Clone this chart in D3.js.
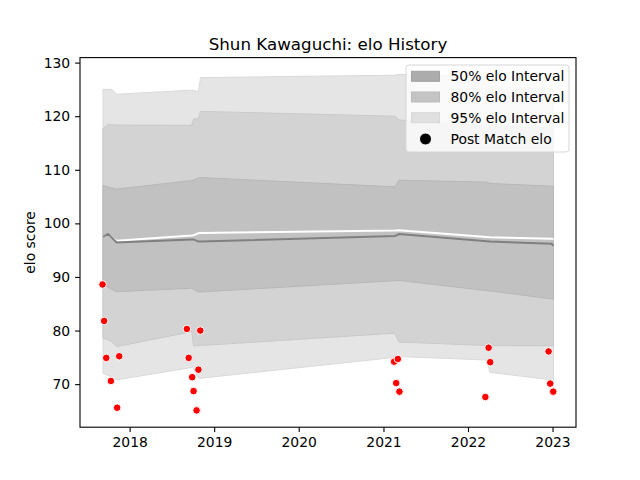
<!DOCTYPE html>
<html>
<head>
<meta charset="utf-8">
<script src="https://cdn.jsdelivr.net/npm/d3@7"></script>
<style>
  html, body { margin: 0; padding: 0; background: #fff; }
  svg { display: block; font-family: "DejaVu Sans", sans-serif; }
</style>
</head>
<body>
<svg id="chart" width="640" height="480"></svg>
<script>
// ---------- data ----------
const titleText = "Shun Kawaguchi: elo History";
const yLabelText = "elo score";

const bandDates = [
  "2017-09-08", "2017-09-30", "2017-10-16", "2017-11-06",
  "2018-09-26", "2018-10-04", "2018-10-25", "2018-11-03",
  "2021-02-20", "2021-03-09", "2022-03-23", "2022-04-06",
  "2022-12-28", "2023-01-05"
];
const upper95 = [125.0, 125.0, 125.0, 124.1, 124.85, 124.8, 124.6, 127.2, 127.65, 127.8, 127.4, 125.5, 125.2, 125.2];
const upper80 = [117.66, 118.45, 118.4, 118.35, 118.3, 119.5, 119.5, 120.9, 120.0, 119.3, 118.2, 118.1, 117.9, 117.85];
const upper50 = [107.07, 106.8, 106.64, 106.4, 108.0, 108.1, 108.45, 108.55, 106.82, 108.05, 107.7, 107.45, 106.95, 106.93];
const lower50 = [88.5, 88.1, 87.7, 87.25, 87.9, 87.6, 87.2, 87.2, 89.3, 89.35, 87.45, 87.4, 85.9, 85.85];
const lower80 = [78.55, 78.3, 77.9, 77.0, 79.8, 77.1, 77.2, 77.2, 79.5, 77.85, 77.2, 77.2, 77.15, 77.1];
const lower95 = [72.0, 71.6, 71.3, 70.8, 73.1, 73.0, 71.1, 71.1, 75.0, 75.15, 74.5, 72.2, 70.8, 70.75];
const meanElo   = [97.5, 98.05, 97.3, 96.75, 97.75, 97.8, 98.15, 98.2, 98.65, 98.7, 97.45, 97.4, 97.15, 97.1];
const medianElo = [97.5, 98.05, 97.3, 96.45, 97.0, 97.0, 96.6, 96.6, 97.66, 98.0, 96.65, 96.6, 96.2, 95.8];

const matchDates = [
  "2017-09-06", "2017-09-13", "2017-09-22", "2017-10-12", "2017-11-08", "2017-11-17",
  "2018-09-05", "2018-09-13", "2018-09-28", "2018-10-04", "2018-10-17", "2018-10-25", "2018-11-02",
  "2021-02-16", "2021-02-25", "2021-03-04", "2021-03-11",
  "2022-03-17", "2022-03-31", "2022-04-07",
  "2022-12-15", "2022-12-22", "2023-01-04"
];
const matchElo = [
  88.6, 81.8, 74.9, 70.6, 65.6, 75.2,
  80.3, 74.9, 71.3, 68.7, 65.1, 72.7, 80.0,
  74.2, 70.2, 74.7, 68.6,
  67.6, 76.8, 74.1,
  76.1, 70.1, 68.6
];

const xTickYears = [2018, 2019, 2020, 2021, 2022, 2023];
const yTicks = [70, 80, 90, 100, 110, 120, 130];
const legendLabels = ["50% elo Interval", "80% elo Interval", "95% elo Interval", "Post Match elo"];

// ---------- layout ----------
const svg = d3.select("#chart");
const L = 80, R = 576, T = 57.6, B = 427.2;
const parse = d3.timeParse("%Y-%m-%d");

const bDates = bandDates.map(parse);
const mDates = matchDates.map(parse);
const allDates = bDates.concat(mDates);
const tMin = d3.min(allDates), tMax = d3.max(allDates);
const tSpan = tMax - tMin;
const x = d3.scaleTime()
  .domain([new Date(+tMin - 0.05 * tSpan), new Date(+tMax + 0.05 * tSpan)])
  .range([L, R]);

const allVals = matchElo.concat(upper95, lower95);
const vMin = d3.min(allVals), vMax = d3.max(allVals);
const vSpan = vMax - vMin;
const y = d3.scaleLinear()
  .domain([vMin - 0.05 * vSpan, vMax + 0.05 * vSpan])
  .range([B, T]);

const bandRows = bDates.map((d, i) => ({
  d, u95: upper95[i], u80: upper80[i], u50: upper50[i],
  l50: lower50[i], l80: lower80[i], l95: lower95[i],
  mean: meanElo[i], med: medianElo[i]
}));

const clip = svg.append("defs").append("clipPath").attr("id", "plotclip")
  .append("rect").attr("x", L).attr("y", T).attr("width", R - L).attr("height", B - T);

const plot = svg.append("g").attr("clip-path", "url(#plotclip)");

function band(lo, hi, fill, stroke) {
  const area = d3.area().x(r => x(r.d)).y0(r => y(r[lo])).y1(r => y(r[hi]));
  plot.append("path").datum(bandRows).attr("d", area)
    .attr("fill", fill).attr("stroke", stroke).attr("stroke-width", 1);
}
band("l95", "u95", "#e5e5e5", "#d9d9d9");
band("l80", "u80", "#d3d3d3", "#c9c9c9");
band("l50", "u50", "#c1c1c1", "#b7b7b7");

const lineMean = d3.line().x(r => x(r.d)).y(r => y(r.mean));
const lineMed = d3.line().x(r => x(r.d)).y(r => y(r.med));
plot.append("path").datum(bandRows).attr("d", lineMean)
  .attr("fill", "none").attr("stroke", "#ffffff").attr("stroke-width", 2);
plot.append("path").datum(bandRows).attr("d", lineMed)
  .attr("fill", "none").attr("stroke", "#808080").attr("stroke-width", 2);

plot.selectAll("circle.pt").data(mDates.map((d, i) => ({ d, v: matchElo[i] })))
  .enter().append("circle").attr("class", "pt")
  .attr("cx", p => x(p.d)).attr("cy", p => y(p.v)).attr("r", 3.8)
  .attr("fill", "#ff0000").attr("stroke", "#ffffff").attr("stroke-width", 1);

// ---------- axes ----------
const xAxis = d3.axisBottom(x)
  .tickValues(xTickYears.map(yr => new Date(yr, 0, 1)))
  .tickFormat(d3.timeFormat("%Y"))
  .tickSizeOuter(0).tickSize(4.9).tickPadding(4.9);
const gx = svg.append("g").attr("transform", `translate(0,${B})`).call(xAxis);
gx.select(".domain").remove();
gx.selectAll("text").attr("font-size", "13.9px").attr("fill", "#000").attr("font-family", "DejaVu Sans");
gx.selectAll("line").attr("stroke", "#000").attr("stroke-width", 1.1);

const yAxis = d3.axisLeft(y).tickValues(yTicks).tickFormat(d3.format("d"))
  .tickSizeOuter(0).tickSize(4.9).tickPadding(4.9);
const gy = svg.append("g").attr("transform", `translate(${L},0)`).call(yAxis);
gy.select(".domain").remove();
gy.selectAll("text").attr("font-size", "13.9px").attr("fill", "#000").attr("font-family", "DejaVu Sans");
gy.selectAll("line").attr("stroke", "#000").attr("stroke-width", 1.1);

svg.append("rect").attr("x", L).attr("y", T).attr("width", R - L).attr("height", B - T)
  .attr("fill", "none").attr("stroke", "#000").attr("stroke-width", 1.1);

// ---------- labels ----------
svg.append("text").attr("x", (L + R) / 2).attr("y", 49.5).attr("text-anchor", "middle")
  .attr("font-size", "16.7px").attr("fill", "#000").text(titleText);

svg.append("text").attr("transform", `translate(35,${(T + B) / 2}) rotate(-90)`)
  .attr("text-anchor", "middle").attr("font-size", "13.9px").attr("fill", "#000").text(yLabelText);

// ---------- legend ----------
const lg = svg.append("g");
lg.append("rect").attr("x", 406).attr("y", 65).attr("width", 163).attr("height", 87)
  .attr("rx", 3).attr("fill", "#ffffff").attr("fill-opacity", 0.8)
  .attr("stroke", "#d6d6d6").attr("stroke-width", 1);
const patchFill = ["#acacac", "#c4c4c4", "#e0e0e0"];
const patchStroke = ["#a2a2a2", "#bbbbbb", "#d8d8d8"];
const rowY = [76.3, 97, 117.7, 139];
legendLabels.forEach((lab, i) => {
  if (i < 3) {
    lg.append("rect").attr("x", 411.5).attr("y", rowY[i] - 5).attr("width", 28).attr("height", 10)
      .attr("fill", patchFill[i]).attr("stroke", patchStroke[i]).attr("stroke-width", 1);
  } else {
    lg.append("circle").attr("cx", 425.5).attr("cy", rowY[i]).attr("r", 6)
      .attr("fill", "#000").attr("stroke", "#fff").attr("stroke-width", 1);
  }
  lg.append("text").attr("x", 450.5).attr("y", rowY[i] + 5)
    .attr("font-size", "13.9px").attr("fill", "#000").text(lab);
});
</script>
</body>
</html>
